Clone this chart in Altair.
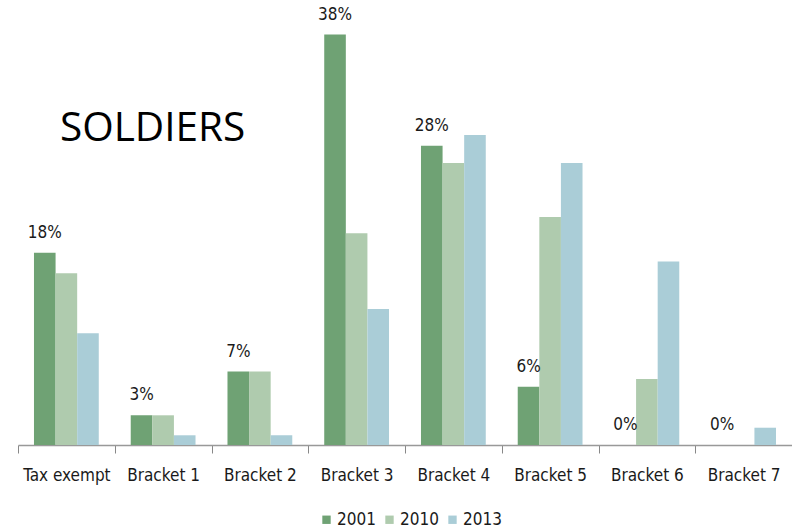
import altair as alt
import pandas as pd

categories = ["Tax exempt", "Bracket 1", "Bracket 2", "Bracket 3",
              "Bracket 4", "Bracket 5", "Bracket 6", "Bracket 7"]
years = ["2001", "2010", "2013"]
v2001 = [17.8, 2.75, 6.8, 38.0, 27.7, 5.4, 0.0, 0.0]
v2010 = [15.9, 2.75, 6.8, 19.6, 26.1, 21.1, 6.1, 0.0]
v2013 = [10.35, 0.9, 0.9, 12.6, 28.7, 26.1, 17.0, 1.6]
labels2001 = ["18%", "3%", "7%", "38%", "28%", "6%", "0%", "0%"]
colors = ["#6FA274", "#AFCBAE", "#AACDD7"]

rows = []
for i, c in enumerate(categories):
    for y, vals in zip(years, [v2001, v2010, v2013]):
        rows.append({"category": c, "year": y, "value": vals[i],
                     "label": labels2001[i] if y == "2001" else ""})
df = pd.DataFrame(rows)

FONT = "DejaVu Sans Condensed, Roboto, sans-serif"

x_enc = alt.X("category:N", sort=categories,
              scale=alt.Scale(paddingInner=0, paddingOuter=0),
              axis=alt.Axis(title=None, labelAngle=0, tickBand="extent",
                            labelFont=FONT, labelFontSize=17, labelColor="#1a1a1a",
                            labelPadding=14, tickSize=8, tickColor="#888",
                            domainColor="#999", domainWidth=1.5, grid=False))
xoff_enc = alt.XOffset("year:N", sort=years,
                       scale=alt.Scale(domain=years, paddingInner=0, paddingOuter=0.74))
y_scale = alt.Scale(domain=[0, 40], nice=False)

bars = alt.Chart(df).mark_bar().encode(
    x=x_enc,
    xOffset=xoff_enc,
    y=alt.Y("value:Q", scale=y_scale, axis=None),
    color=alt.Color("year:N", sort=years,
                    scale=alt.Scale(domain=years, range=colors),
                    legend=alt.Legend(title=None, orient="none", direction="horizontal",
                                      legendX=300, legendY=498,
                                      symbolType="square", symbolSize=70,
                                      symbolStrokeWidth=0,
                                      labelFont=FONT, labelFontSize=17,
                                      labelColor="#1a1a1a", columnPadding=5,
                                      symbolOffset=0, labelOffset=2)),
)

text = alt.Chart(df).transform_filter(alt.datum.year == "2001").mark_text(
    font=FONT, fontSize=17, baseline="bottom", dy=-11, color="#1a1a1a"
).encode(
    x=alt.X("category:N", sort=categories),
    xOffset=alt.XOffset("year:N", sort=years),
    y=alt.Y("value:Q", scale=y_scale),
    text="label:N",
)

title_df = pd.DataFrame({"t": ["SOLDIERS"]})
title = alt.Chart(title_df).mark_text(
    font="Open Sans", fontSize=40.5, align="left", baseline="alphabetic", color="black"
).encode(x=alt.value(42), y=alt.value(128), text="t:N")

chart = alt.layer(bars, text, title).properties(
    width=774, height=432,
    autosize=alt.AutoSizeParams(type="none"),
    padding={"left": 18, "top": 13, "right": 0, "bottom": 85},
).configure_view(stroke=None)

chart.save("out.html", embed_options={"renderer": "svg", "actions": False})
